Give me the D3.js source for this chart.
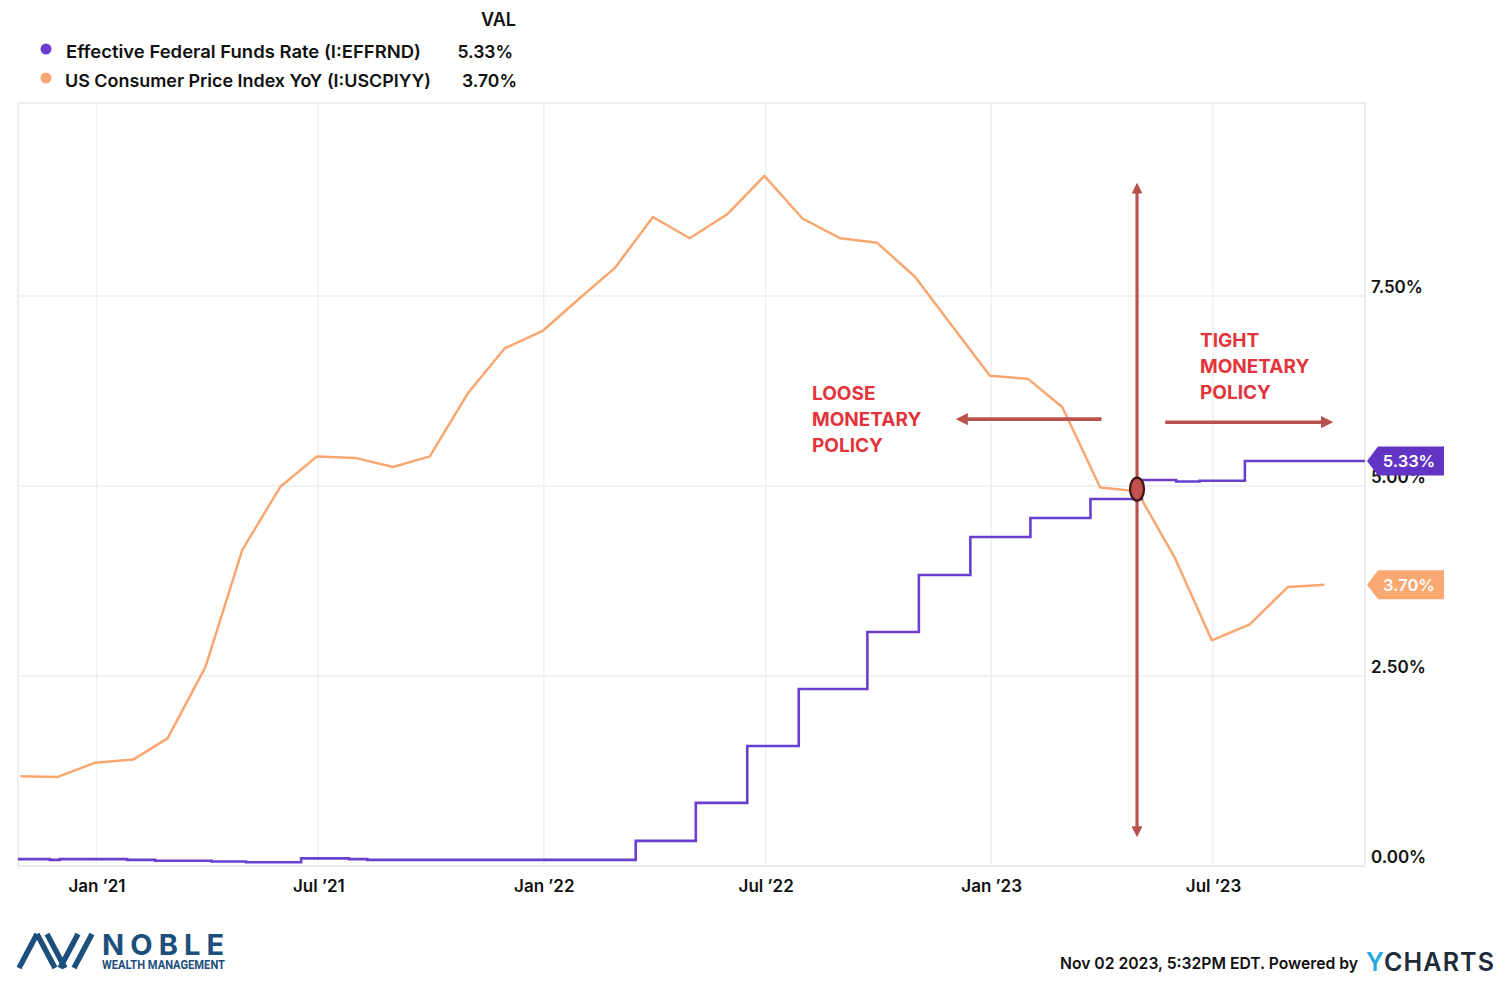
<!DOCTYPE html>
<html>
<head>
<meta charset="utf-8">
<script src="https://cdn.jsdelivr.net/npm/d3@7"></script>
<style>
  body { margin: 0; background: #fff; }
  svg { display: block; font-family: Inter, "Open Sans", sans-serif; }
</style>
</head>
<body>
<script>
// CPI YoY, monthly (plotted at month end)
var cpiMonths = ["2020-10","2020-11","2020-12","2021-01","2021-02","2021-03","2021-04","2021-05","2021-06",
  "2021-07","2021-08","2021-09","2021-10","2021-11","2021-12","2022-01","2022-02","2022-03","2022-04",
  "2022-05","2022-06","2022-07","2022-08","2022-09","2022-10","2022-11","2022-12","2023-01","2023-02",
  "2023-03","2023-04","2023-05","2023-06","2023-07","2023-08","2023-09"];
var cpiValues = [1.18,1.17,1.36,1.40,1.68,2.62,4.16,4.99,5.39,5.37,5.25,5.39,6.22,6.81,7.04,7.48,7.87,8.54,
  8.26,8.58,9.08,8.52,8.26,8.20,7.75,7.11,6.45,6.41,6.04,4.98,4.93,4.05,2.97,3.18,3.67,3.70];

// effective fed funds rate, step changes
var fedDates = ["2020-10-29","2020-11-24","2020-12-02","2021-01-26","2021-02-18","2021-04-05","2021-05-03",
  "2021-06-17","2021-07-26","2021-08-10","2022-03-17","2022-05-05","2022-06-16","2022-07-28","2022-09-22",
  "2022-11-03","2022-12-15","2023-02-02","2023-03-23","2023-05-04","2023-06-01","2023-06-20","2023-07-27","2023-11-02"];
var fedValues = [0.09,0.08,0.09,0.08,0.07,0.06,0.05,0.10,0.09,0.08,0.33,0.83,1.58,2.33,3.08,3.83,4.33,4.58,4.83,
  5.08,5.06,5.07,5.33,5.33];

var seriesNames = ["Effective Federal Funds Rate (I:EFFRND)", "US Consumer Price Index YoY (I:USCPIYY)"];
var seriesColors = ["#6a3fd0", "#f9a770"];
var tagColors = ["#6234c6", "#f8a870"];
var yTicks = [0, 2.5, 5, 7.5];

var parse = d3.timeParse("%Y-%m-%d");
var cpi = cpiMonths.map(function(m, i) {
  var p = m.split("-");
  return { date: new Date(+p[0], +p[1], 0), value: cpiValues[i] };
});
var fed = fedDates.map(function(d, i) { return { date: parse(d), value: fedValues[i] }; });

var W = 1510, H = 983;
var pLeft = 18, pRight = 1365, pTop = 103, pBottom = 866;

var x = d3.scaleTime().domain([new Date(2020, 9, 29), new Date(2023, 10, 2)]).range([pLeft, pRight]);
var y = d3.scaleLinear().domain([0, 10.04]).range([pBottom, pTop]);

var svg = d3.select("body").append("svg").attr("width", W).attr("height", H);

// grid
var xTicks = x.ticks(d3.timeMonth.every(6));
svg.append("g").selectAll("line").data(xTicks).join("line")
  .attr("x1", d => x(d)).attr("x2", d => x(d)).attr("y1", pTop).attr("y2", pBottom)
  .attr("stroke", "#f0f0f0").attr("stroke-width", 1.5);
svg.append("g").selectAll("line").data(yTicks).join("line")
  .attr("x1", pLeft).attr("x2", pRight).attr("y1", d => y(d)).attr("y2", d => y(d))
  .attr("stroke", "#eeeeee").attr("stroke-width", 1.5);
svg.append("rect").attr("x", pLeft).attr("y", pTop).attr("width", pRight - pLeft).attr("height", pBottom - pTop)
  .attr("fill", "none").attr("stroke", "#e9e9e9").attr("stroke-width", 1.5);

// axes
var xAxis = svg.append("g").attr("transform", "translate(0," + pBottom + ")")
  .call(d3.axisBottom(x).tickValues(xTicks).tickSize(0).tickPadding(14)
    .tickFormat(d3.timeFormat("%b \u2019%y")));
xAxis.select(".domain").remove();
xAxis.selectAll("text").attr("font-family", "Inter").attr("font-size", 17).attr("font-weight", 600).attr("fill", "#111");

var yAxis = svg.append("g").attr("transform", "translate(" + pRight + ",0)")
  .call(d3.axisRight(y).tickValues(yTicks).tickSize(0).tickPadding(6)
    .tickFormat(d => d.toFixed(2) + "%"));
yAxis.select(".domain").remove();
yAxis.selectAll("text").attr("dy", -4).attr("font-family", "Inter").attr("font-size", 17)
  .attr("font-weight", 600).attr("fill", "#111");

// lines
svg.append("path").datum(cpi)
  .attr("fill", "none").attr("stroke", seriesColors[1]).attr("stroke-width", 2.5).attr("stroke-linejoin", "round")
  .attr("d", d3.line().x(d => x(d.date)).y(d => y(d.value)));
svg.append("path").datum(fed)
  .attr("fill", "none").attr("stroke", seriesColors[0]).attr("stroke-width", 2.6)
  .attr("d", d3.line().curve(d3.curveStepAfter).x(d => x(d.date)).y(d => y(d.value)));

// last value tags
var lastVals = [fedValues[fedValues.length - 1], cpiValues[cpiValues.length - 1]];
lastVals.forEach(function(v, i) {
  var cy = y(v), x0 = pRight + 2;
  svg.append("path")
    .attr("d", "M" + x0 + "," + cy + "L" + (x0 + 11) + "," + (cy - 14.5) + "H" + (x0 + 77) +
      "V" + (cy + 14.5) + "H" + (x0 + 11) + "Z")
    .attr("fill", tagColors[i]);
  svg.append("text").attr("x", x0 + 42).attr("y", cy + 6).attr("text-anchor", "middle")
    .attr("font-size", 16.5).attr("font-weight", 600).attr("fill", "#fff")
    .text(v.toFixed(2) + "%");
});

// annotations
var red = "#b9524f";
var defs = svg.append("defs");
defs.append("marker").attr("id", "ah").attr("viewBox", "0 0 10 10").attr("refX", 5).attr("refY", 5)
  .attr("markerWidth", 3.4).attr("markerHeight", 3.4).attr("orient", "auto-start-reverse")
  .append("path").attr("d", "M0,0L10,5L0,10Z").attr("fill", red);

var pivot = new Date(2023, 3, 30);
svg.append("line").attr("x1", x(pivot)).attr("x2", x(pivot)).attr("y1", y(0.45)).attr("y2", y(8.92))
  .attr("stroke", red).attr("stroke-width", 3.2)
  .attr("marker-start", "url(#ah)").attr("marker-end", "url(#ah)");
svg.append("line").attr("x1", x(new Date(2023, 3, 1))).attr("x2", x(new Date(2022, 11, 8)))
  .attr("y1", y(5.88)).attr("y2", y(5.88))
  .attr("stroke", red).attr("stroke-width", 3.6).attr("marker-end", "url(#ah)");
svg.append("line").attr("x1", x(new Date(2023, 4, 23))).attr("x2", x(new Date(2023, 9, 2)))
  .attr("y1", y(5.84)).attr("y2", y(5.84))
  .attr("stroke", red).attr("stroke-width", 3.6).attr("marker-end", "url(#ah)");
svg.append("ellipse").attr("cx", x(pivot)).attr("cy", y(4.96)).attr("rx", 7).attr("ry", 11.5)
  .attr("fill", "#c2504c").attr("stroke", "#3b1714").attr("stroke-width", 2.2);

var loose = ["LOOSE", "MONETARY", "POLICY"];
var tight = ["TIGHT", "MONETARY", "POLICY"];
svg.append("g").selectAll("text").data(loose).join("text")
  .attr("x", 812).attr("y", (d, i) => 400 + i * 26)
  .attr("font-size", 19).attr("font-weight", 700).attr("fill", "#e3343b").text(d => d);
svg.append("g").selectAll("text").data(tight).join("text")
  .attr("x", 1200).attr("y", (d, i) => 347 + i * 26)
  .attr("font-size", 19).attr("font-weight", 700).attr("fill", "#e3343b").text(d => d);

// legend
svg.append("text").attr("x", 516).attr("y", 26).attr("text-anchor", "end")
  .attr("font-size", 18).attr("font-weight", 600).attr("fill", "#111").text("VAL");
var legendRows = [{ y: 51, tx: 66, w: 355, vx: 513 }, { y: 80, tx: 65, w: 366, vx: 517 }];
legendRows.forEach(function(r, i) {
  svg.append("circle").attr("cx", 46).attr("cy", r.y - 2).attr("r", 5.5).attr("fill", seriesColors[i]);
  svg.append("text").attr("x", r.tx).attr("y", r.y + 7).attr("font-size", 17.5).attr("font-weight", 600)
    .attr("fill", "#111").attr("textLength", r.w).attr("lengthAdjust", "spacingAndGlyphs").text(seriesNames[i]);
  svg.append("text").attr("x", r.vx).attr("y", r.y + 7).attr("text-anchor", "end").attr("font-size", 17.5)
    .attr("font-weight", 600).attr("fill", "#111").text(lastVals[i].toFixed(2) + "%");
});

// footer: Noble logo
var navy = "#1d4f7c";
var logo = svg.append("g").attr("stroke", navy).attr("stroke-width", 5.5).attr("stroke-linecap", "butt");
[[19, 968, 37, 934], [37, 934, 55, 968], [47, 934, 65, 968], [60, 968, 78, 934], [74, 968, 92, 934]]
  .forEach(function(s) {
    logo.append("line").attr("x1", s[0]).attr("y1", s[1]).attr("x2", s[2]).attr("y2", s[3]);
  });
svg.append("text").attr("x", 102).attr("y", 955).attr("font-size", 29).attr("font-weight", 700)
  .attr("fill", navy).attr("textLength", 122).attr("lengthAdjust", "spacing").text("NOBLE");
svg.append("text").attr("x", 102).attr("y", 969).attr("font-family", "Liberation Sans Narrow, Roboto")
  .attr("font-size", 12.5).attr("font-weight", 700).attr("fill", navy)
  .attr("textLength", 123).attr("lengthAdjust", "spacingAndGlyphs").text("WEALTH MANAGEMENT");

// footer: ycharts
svg.append("text").attr("x", 1060).attr("y", 969).attr("font-size", 16.5).attr("font-weight", 600)
  .attr("fill", "#111").attr("textLength", 298).attr("lengthAdjust", "spacingAndGlyphs")
  .text("Nov 02 2023, 5:32PM EDT. Powered by");
var yc = svg.append("text").attr("x", 1366).attr("y", 971).attr("font-size", 25).attr("font-weight", 600)
  .attr("textLength", 128).attr("lengthAdjust", "spacing");
yc.append("tspan").attr("fill", "#27a9e1").text("Y");
yc.append("tspan").attr("fill", "#1f2b38").text("CHARTS");
</script>
</body>
</html>
